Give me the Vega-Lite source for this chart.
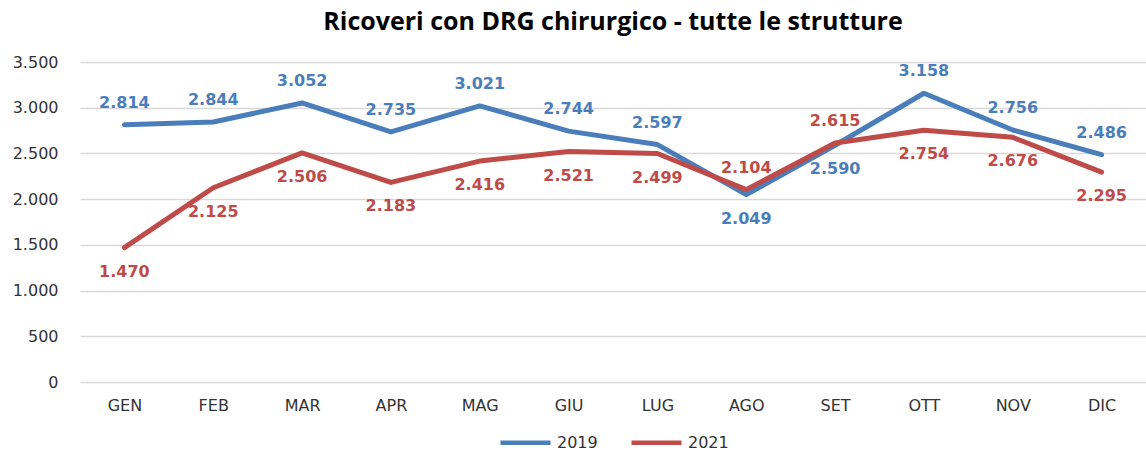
{
  "$schema": "https://vega.github.io/schema/vega-lite/v6.json",
  "width": 1146,
  "height": 452,
  "autosize": {"type": "fit", "contains": "padding"},
  "padding": {"left": 12, "right": 0, "top": 10, "bottom": 0},
  "background": "white",
  "config": {
    "locale": {"number": {"decimal": ",", "thousands": ".", "grouping": [3], "currency": ["€", ""]}},
    "view": {"stroke": null},
    "font": "DejaVu Sans",
    "legend": {"layout": {"bottom": {"anchor": "middle"}}}
  },
  "title": {
    "text": "Ricoveri con DRG chirurgico - tutte le strutture",
    "font": "Open Sans",
    "fontSize": 25,
    "fontWeight": "bold",
    "color": "#000000",
    "anchor": "middle",
    "offset": 19
  },
  "data": {
    "values": [
      {"mese": "GEN", "anno": "2019", "valore": 2814},
      {"mese": "FEB", "anno": "2019", "valore": 2844},
      {"mese": "MAR", "anno": "2019", "valore": 3052},
      {"mese": "APR", "anno": "2019", "valore": 2735},
      {"mese": "MAG", "anno": "2019", "valore": 3021},
      {"mese": "GIU", "anno": "2019", "valore": 2744},
      {"mese": "LUG", "anno": "2019", "valore": 2597},
      {"mese": "AGO", "anno": "2019", "valore": 2049},
      {"mese": "SET", "anno": "2019", "valore": 2590},
      {"mese": "OTT", "anno": "2019", "valore": 3158},
      {"mese": "NOV", "anno": "2019", "valore": 2756},
      {"mese": "DIC", "anno": "2019", "valore": 2486},
      {"mese": "GEN", "anno": "2021", "valore": 1470},
      {"mese": "FEB", "anno": "2021", "valore": 2125},
      {"mese": "MAR", "anno": "2021", "valore": 2506},
      {"mese": "APR", "anno": "2021", "valore": 2183},
      {"mese": "MAG", "anno": "2021", "valore": 2416},
      {"mese": "GIU", "anno": "2021", "valore": 2521},
      {"mese": "LUG", "anno": "2021", "valore": 2499},
      {"mese": "AGO", "anno": "2021", "valore": 2104},
      {"mese": "SET", "anno": "2021", "valore": 2615},
      {"mese": "OTT", "anno": "2021", "valore": 2754},
      {"mese": "NOV", "anno": "2021", "valore": 2676},
      {"mese": "DIC", "anno": "2021", "valore": 2295}
    ]
  },
  "encoding": {
    "x": {
      "field": "mese",
      "type": "nominal",
      "sort": ["GEN", "FEB", "MAR", "APR", "MAG", "GIU", "LUG", "AGO", "SET", "OTT", "NOV", "DIC"],
      "scale": {"type": "point", "padding": 0.5},
      "axis": {
        "title": null,
        "labelAngle": 0,
        "labelFont": "DejaVu Sans",
        "labelFontSize": 16,
        "labelColor": "#333333",
        "labelPadding": 15,
        "ticks": false,
        "domain": false,
        "grid": false
      }
    },
    "y": {
      "field": "valore",
      "type": "quantitative",
      "scale": {"domain": [0, 3500], "nice": false},
      "axis": {
        "title": null,
        "values": [0, 500, 1000, 1500, 2000, 2500, 3000, 3500],
        "format": ",d",
        "labelFont": "DejaVu Sans",
        "labelFontSize": 16,
        "labelColor": "#333333",
        "labelPadding": 22,
        "ticks": false,
        "domain": false,
        "grid": true,
        "gridColor": "#d9d9d9",
        "gridWidth": 1.5
      }
    },
    "color": {
      "field": "anno",
      "type": "nominal",
      "scale": {"domain": ["2019", "2021"], "range": ["#4a7ebb", "#be4b48"]},
      "legend": {
        "title": null,
        "orient": "bottom",
        "direction": "horizontal",
        "symbolType": "stroke",
        "symbolStrokeWidth": 4.5,
        "symbolSize": 2500,
        "labelFont": "DejaVu Sans",
        "labelFontSize": 16,
        "labelColor": "#333333",
        "columnPadding": 24,
        "offset": 2
      }
    }
  },
  "layer": [
    {
      "mark": {"type": "line", "strokeWidth": 5, "strokeCap": "round", "strokeJoin": "round"}
    },
    {
      "transform": [{"filter": "(datum.anno == '2019' && datum.mese != 'AGO' && datum.mese != 'SET') || (datum.anno == '2021' && (datum.mese == 'AGO' || datum.mese == 'SET'))"}],
      "mark": {"type": "text", "dy": -22, "fontSize": 16, "fontWeight": "bold", "font": "DejaVu Sans"},
      "encoding": {"text": {"field": "valore", "type": "quantitative", "format": ",d"}}
    },
    {
      "transform": [{"filter": "(datum.anno == '2021' && datum.mese != 'AGO' && datum.mese != 'SET') || (datum.anno == '2019' && (datum.mese == 'AGO' || datum.mese == 'SET'))"}],
      "mark": {"type": "text", "dy": 24, "fontSize": 16, "fontWeight": "bold", "font": "DejaVu Sans"},
      "encoding": {"text": {"field": "valore", "type": "quantitative", "format": ",d"}}
    }
  ]
}
